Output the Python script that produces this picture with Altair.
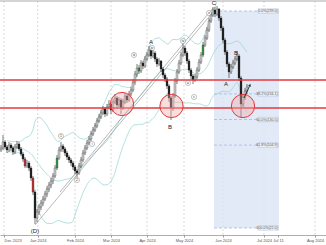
import altair as alt
import pandas as pd

# ---------------- data ----------------
opens = [100,102,108,103,100,105,102,98,103,106,
         101,96,91,84,87,82,72,58,32,38,
         43,47,51,56,61,65,69,74,82,92,
         100,104,101,97,93,90,87,83,79,77,
         84,90,97,102,107,111,116,120,124,129,
         133,137,141,136,143,146,140,148,152,145,
         150,142,148,154,150,156,160,168,176,182,
         179,187,184,191,195,200,194,197,191,186,
         189,181,175,171,164,152,142,154,169,178,
         187,195,202,197,189,180,174,170,173,180,
         188,195,205,212,220,229,235,240,236,241,
         232,222,210,198,186,178,183,187,191,194,
         172,146,153,159]
closes = [102,108,103,100,105,102,98,103,106,101,
          96,91,84,87,82,72,58,32,38,43,
          47,51,56,61,65,69,74,82,92,100,
          104,101,97,93,90,87,83,79,77,84,
          90,97,102,107,111,116,120,124,129,133,
          137,141,136,143,146,140,148,152,145,150,
          142,148,154,150,156,160,168,176,182,179,
          187,184,191,195,200,194,197,191,186,189,
          181,175,171,164,152,142,154,169,178,187,
          195,202,197,189,180,174,170,173,180,188,
          195,205,212,220,229,235,240,236,241,232,
          222,210,198,186,178,183,187,191,194,172,
          146,153,159,163]
highs = [105,115,110,105,108,107,104,106,109,108,
         103,98,93,90,89,84,74,60,41,46,
         50,54,59,64,68,72,77,85,95,103,
         108,106,103,99,95,92,89,85,81,87,
         93,100,105,110,114,119,123,127,132,136,
         140,144,143,146,150,148,151,156,154,153,
         152,151,157,156,159,163,171,179,186,185,
         190,189,194,198,204,202,200,199,193,192,
         190,183,177,173,166,154,157,172,181,190,
         198,206,204,199,191,182,176,176,183,191,
         198,208,215,223,232,238,243,243,244,242,
         234,224,212,200,188,186,190,194,199,196,
         174,156,162,166]
lows = [98,100,101,97,98,99,95,96,101,99,
        94,88,82,82,79,69,55,26,28,35,
        40,44,49,53,58,62,66,72,80,90,
        98,98,94,90,87,84,80,76,73,75,
        82,88,95,100,105,109,114,118,122,127,
        131,135,133,134,141,136,138,146,141,143,
        136,140,146,147,148,154,158,165,173,176,
        177,181,182,189,193,191,192,188,183,184,
        178,172,168,161,148,130,139,152,166,176,
        185,193,194,186,177,171,166,168,171,178,
        186,193,203,210,218,227,233,233,234,229,
        219,207,195,183,172,176,181,185,189,169,
        132,143,150,156]
green_bars = [28, 69, 101]
red_bars = [12, 16]

tick_pos = [1.5, 18.35, 37, 55, 73, 91.5, 111, 131.5, 138.5, 157]
tick_labels = ["Dec 2023", "Jan 2024", "Feb 2024", "Mar 2024", "Apr 2024",
               "May 2024", "Jun 2024", "Jul 2024", "Jul 11", "Aug 2024"]
grid_pos = [1.5, 18.35, 37, 55, 73, 91.5, 111, 131.5, 157]

support_levels = [170, 142]
circle_b = [60.5, 85.25, 121]
circle_p = [146, 144, 144]

trend_id = ["t1", "t1", "t2", "t2"]
trend_b = [17, 106, 29.5, 106]
trend_p = [25, 238, 58, 242]

fib_ratios = [0.0, 0.382, 0.5, 0.618, 1.0]
fib_high, fib_low = 239, 22
fib_start, fib_end = 106.5, 139

letter_text = ["(D)", "A", "B", "C", "A", "B"]
letter_b = [17, 75, 84.5, 106.5, 112.5, 117.5]
letter_p = [19, 208, 123, 247, 166, 197]

circ_text = ["1", "2", "i", "iii", "iv", "v", "a", "c", "iv"]
circ_b = [30, 38, 45.5, 66.5, 91, 104, 93.5, 96.5, 75.5]
circ_p = [114, 70, 106, 195, 209, 237, 167, 153, 202]

arrow_b = [121.5, 124.5]
arrow_p = [152, 165]

X_DOMAIN = [-0.5, 162.5]
Y_DOMAIN = [15, 249]

# ---------------- frames ----------------
bars = list(range(len(closes)))
kind = []
for i, (o, c) in enumerate(zip(opens, closes)):
    if i in green_bars:
        kind.append("green")
    elif i in red_bars:
        kind.append("red")
    else:
        kind.append("up" if c >= o else "down")
df = pd.DataFrame({"b": bars, "open": opens, "close": closes,
                   "high": highs, "low": lows, "kind": kind})

fib_df = pd.DataFrame({"r": fib_ratios})
fib_df["p"] = fib_high - fib_df["r"] * (fib_high - fib_low)
fib_df["label"] = [f"{r*100:.1f}%({p:.1f})" for r, p in zip(fib_df["r"], fib_df["p"])]
fib_df["b0"] = fib_start
fib_df["b1"] = fib_end
fib_df["lb0"] = fib_end - 10.5
fib_df["lb1"] = fib_end - 0.3
fib_df["lp0"] = fib_df["p"] - 2.2
fib_df["lp1"] = fib_df["p"] + 2.2
rect_df = pd.DataFrame({"b0": [fib_start], "b1": [fib_end], "p0": [fib_low], "p1": [fib_high]})

tick_df = pd.DataFrame({"pos": grid_pos})
sup_df = pd.DataFrame({"p": support_levels})
circ_df = pd.DataFrame({"b": circle_b, "p": circle_p})
trend_df = pd.DataFrame({"id": trend_id, "b": trend_b, "p": trend_p})
let_df = pd.DataFrame({"t": letter_text, "b": letter_b, "p": letter_p})
cl_df = pd.DataFrame({"t": circ_text, "b": circ_b, "p": circ_p})
arr_df = pd.DataFrame({"b": arrow_b, "p": arrow_p})
head_df = arr_df.tail(1)

# ---------------- encodings ----------------
label_expr = " : ".join(
    f"abs(datum.value - {p}) < 0.01 ? '{l}'" for p, l in zip(tick_pos, tick_labels)
) + " : ''"
xaxis = alt.Axis(values=tick_pos, labelExpr=label_expr, grid=False,
                 labelFontSize=4, labelColor="#555", labelFont="Liberation Sans",
                 labelPadding=1, labelOverlap=False, labelBound=False, labelFlush=6,
                 tickSize=2, tickColor="#999", domainColor="#999", domainWidth=0.8)
xs = alt.Scale(domain=X_DOMAIN, nice=False, zero=False)
ys = alt.Scale(domain=Y_DOMAIN, nice=False, zero=False)


def X(f):
    return alt.X(f, type="quantitative", scale=xs, axis=xaxis, title=None)


def Y(f):
    return alt.Y(f, type="quantitative", scale=ys, axis=None, title=None)


grid = alt.Chart(tick_df).mark_rule(color="#c8c8c8", strokeWidth=0.7, strokeDash=[2, 2]).encode(
    x=X("pos"))
top = alt.Chart(tick_df.head(1)).mark_rule(color="#aaaaaa", strokeWidth=1).encode(y=alt.value(0))

fib_rect = alt.Chart(rect_df).mark_rect(fill="#dde6f6", opacity=0.85).encode(
    x=X("b0"), x2="b1", y=Y("p0"), y2="p1")
fib_lines = alt.Chart(fib_df).mark_rule(color="#9bb2df", strokeWidth=0.7, strokeDash=[3, 2]).encode(
    x=X("b0"), x2="b1", y=Y("p"))
fib_boxes = alt.Chart(fib_df).mark_rect(fill="#eef2fa", stroke="#aab9da", strokeWidth=0.5).encode(
    x=X("lb0"), x2="lb1", y=Y("lp0"), y2="lp1")
fib_text = alt.Chart(fib_df).mark_text(align="right", dx=-1.2, fontSize=3.6, color="#555",
                                       font="Liberation Sans").encode(
    x=X("b1"), y=Y("p"), text="label")

bands = alt.Chart(df).transform_window(
    ma="mean(close)", sd="stdevp(close)", frame=[-19, 0], sort=[alt.SortField("b")]
).transform_filter("datum.b >= 3").transform_calculate(
    up="datum.ma + 2*datum.sd", lo="datum.ma - 2*datum.sd"
).transform_fold(["up", "ma", "lo"], as_=["band", "val"]).mark_line(
    color="#95d4d2", strokeWidth=0.7, clip=True).encode(x=X("b"), y=Y("val:Q"), detail="band:N")

trend = alt.Chart(trend_df).mark_line(color="#8a8a8a", strokeWidth=0.6).encode(
    x=X("b"), y=Y("p"), detail="id:N")

support = alt.Chart(sup_df).mark_rule(color="#e4393e", strokeWidth=1.3).encode(y=Y("p"))

wicks = alt.Chart(df).mark_rule(color="#222", strokeWidth=0.6).encode(
    x=X("b"), y=Y("low"), y2="high")
bodies = alt.Chart(df).transform_calculate(
    b0="datum.b - 0.45", b1="datum.b + 0.45",
    top="max(datum.open, datum.close)", bot="min(datum.open, datum.close)"
).mark_bar(stroke="#222", strokeWidth=0.35).encode(
    x=X("b0:Q"), x2="b1:Q", y=Y("top:Q"), y2="bot:Q",
    color=alt.Color("kind:N", scale=alt.Scale(domain=["up", "down", "green", "red"],
                                              range=["#dcdcdc", "#111111", "#2e9e3e", "#d62728"]),
                    legend=None))

circles = alt.Chart(circ_df).mark_point(shape="circle", size=540, filled=True, fill="#f3a9a9",
                                        fillOpacity=0.4, stroke="#e0393e", strokeWidth=1,
                                        strokeOpacity=1).encode(x=X("b"), y=Y("p"))

arrow = alt.Chart(arr_df).mark_line(color="#111", strokeWidth=0.8).encode(x=X("b"), y=Y("p"))
head = alt.Chart(head_df).mark_point(shape="triangle-up", size=10, filled=True, color="#111",
                                     angle=27).encode(x=X("b"), y=Y("p"))

letters = alt.Chart(let_df).mark_text(fontSize=6, color="#222", font="Liberation Sans").encode(
    x=X("b"), y=Y("p"), text="t")
circ_pts = alt.Chart(cl_df).mark_point(shape="circle", size=26, filled=True, fill="#ffffff",
                                       stroke="#555", strokeWidth=0.5).encode(x=X("b"), y=Y("p"))
circ_txt = alt.Chart(cl_df).mark_text(fontSize=3.2, color="#222", font="Liberation Sans").encode(
    x=X("b"), y=Y("p"), text="t")

chart = alt.layer(
    grid, top, fib_rect, fib_lines, bands, trend, wicks, bodies, support, circles,
    arrow, head, letters, circ_pts, circ_txt, fib_boxes, fib_text
).properties(
    width=326, height=234,
    padding={"left": 0, "top": 1, "right": 0, "bottom": 10},
    autosize=alt.AutoSizeParams(type="none"),
).configure_view(stroke=None)

chart.save("out.html", embed_options={"renderer": "svg", "actions": False})
